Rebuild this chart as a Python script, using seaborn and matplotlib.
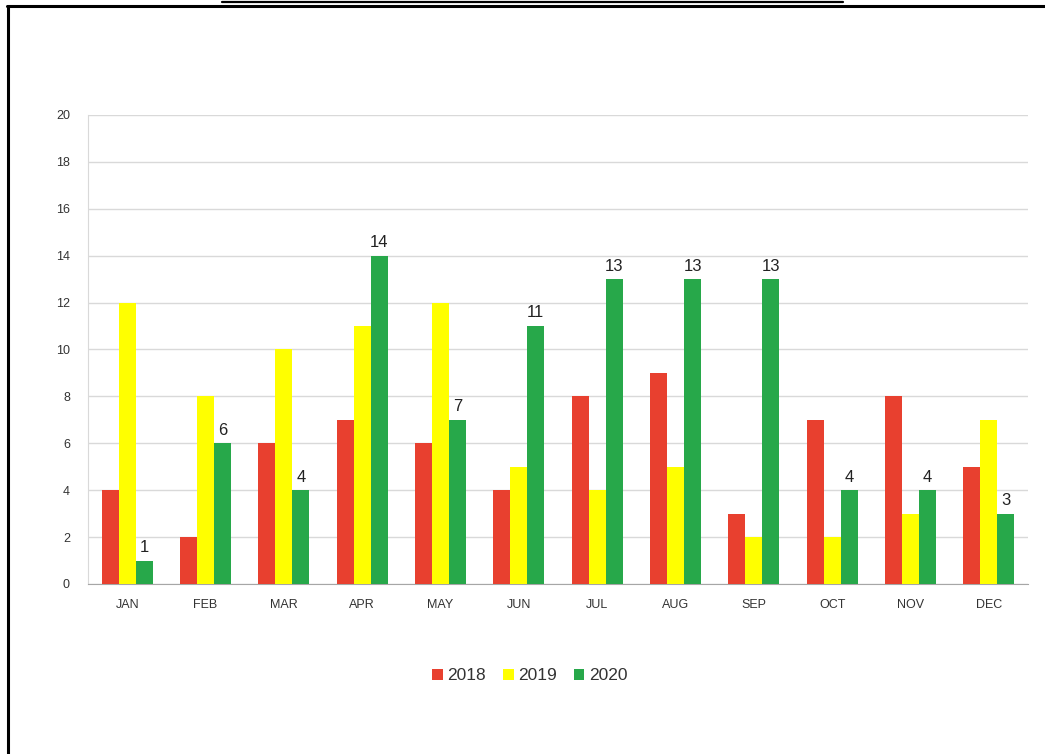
import matplotlib
matplotlib.use("Agg")
import matplotlib.pyplot as plt
from matplotlib.lines import Line2D
import pandas as pd
import seaborn as sns

months = ["JAN", "FEB", "MAR", "APR", "MAY", "JUN",
          "JUL", "AUG", "SEP", "OCT", "NOV", "DEC"]
years = ["2018", "2019", "2020"]
values_2018 = [4, 2, 6, 7, 6, 4, 8, 9, 3, 7, 8, 5]
values_2019 = [12, 8, 10, 11, 12, 5, 4, 5, 2, 2, 3, 7]
values_2020 = [1, 6, 4, 14, 7, 11, 13, 13, 13, 4, 4, 3]
colors = ["#E8402F", "#FFFF00", "#27A84A"]

df = pd.DataFrame({
    "month": months * 3,
    "year": [y for y in years for _ in months],
    "count": values_2018 + values_2019 + values_2020,
})

sns.set_style("white")
plt.rcParams["font.family"] = ["Liberation Sans", "DejaVu Sans"]

fig = plt.figure(figsize=(10.45, 7.54), dpi=100)
ax = fig.add_axes([0.0842, 0.2255, 0.8996, 0.622])

sns.barplot(data=df, x="month", y="count", hue="year", order=months,
            hue_order=years, palette=colors, width=0.65, gap=0,
            saturation=1, edgecolor="none", ax=ax, zorder=3)

ax.set_ylim(0, 20)
ax.set_yticks(range(0, 21, 2))
ax.set_xlim(-0.5, 11.5)
ax.grid(axis="y", color="#D9D9D9", linewidth=1, zorder=0)
ax.set_xlabel("")
ax.set_ylabel("")
for side in ["top", "right"]:
    ax.spines[side].set_visible(False)
ax.spines["left"].set_color("#D9D9D9")
ax.spines["bottom"].set_color("#A6A6A6")
ax.tick_params(axis="y", labelsize=9, colors="#333333", length=0, pad=13)
ax.tick_params(axis="x", labelsize=9, colors="#333333", length=0, pad=11)

# labels only on the 2020 bars
ax.bar_label(ax.containers[2], labels=[str(v) for v in values_2020],
             fontsize=12, color="#222222", padding=4)

ax.legend(loc="center", bbox_to_anchor=(0.47, -0.196), ncol=3,
          frameon=False, fontsize=12.5, handlelength=0.6, handleheight=0.6,
          handletextpad=0.25, columnspacing=1.0, labelcolor="#333333")

# page frame and cut-off caption underline
fig.add_artist(Line2D([0.0067, 1.0], [0.9914, 0.9914], color="black",
                      linewidth=2.2, transform=fig.transFigure))
fig.add_artist(Line2D([0.0077, 0.0077], [0.0, 0.9914], color="black",
                      linewidth=2.2, transform=fig.transFigure))
fig.add_artist(Line2D([0.2124, 0.8067], [0.997, 0.997], color="black",
                      linewidth=1.6, transform=fig.transFigure))

fig.savefig("out.png", dpi=100, facecolor="white")
